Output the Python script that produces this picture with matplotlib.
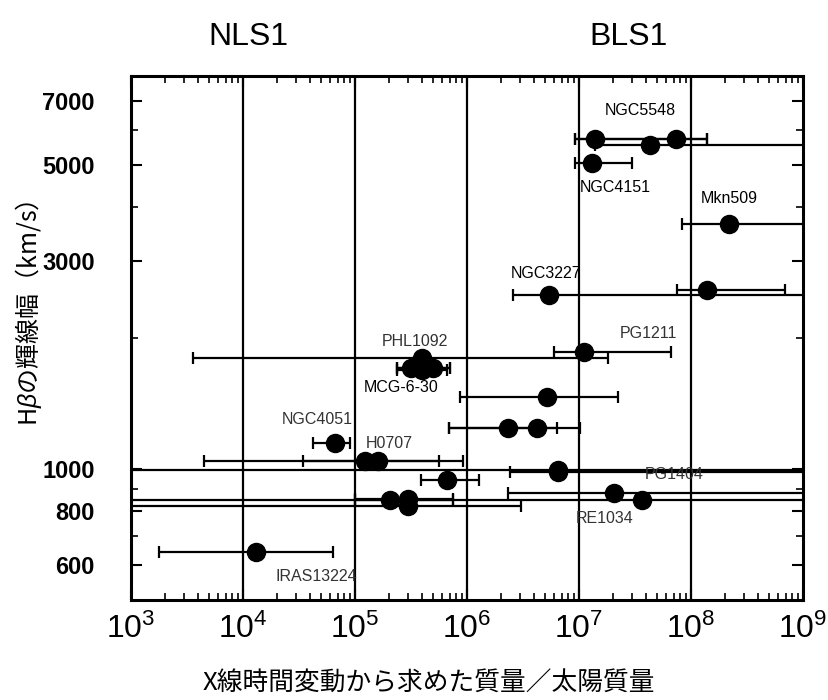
import matplotlib
matplotlib.use("Agg")
import matplotlib.pyplot as plt
from matplotlib.ticker import FixedLocator, FixedFormatter, NullFormatter, LogLocator, LogFormatterMathtext
import numpy as np

plt.rcParams['font.family'] = ['Liberation Sans', 'DejaVu Sans']
plt.rcParams['mathtext.fontset'] = 'custom'
plt.rcParams['mathtext.rm'] = 'Liberation Sans'
plt.rcParams['mathtext.it'] = 'Liberation Sans:italic'

# --- data: X-ray variability mass (solar masses) vs. H-beta FWHM (km/s)
mass    = [1.39e7, 4.3e7, 7.35e7, 1.31e7, 2.18e8, 5.4e6, 1.39e8, 1.11e7, 3.96e5,
           3.16e5, 3.96e5, 4.97e5, 5.15e6, 2.34e6, 4.25e6, 6.6e4, 1.23e5, 1.6e5,
           6.58e5, 6.5e6, 6.5e6, 2.05e7, 3.65e7, 2.05e5, 2.97e5, 2.97e5, 1.32e4]
mass_lo = [9.2e6, 1.4e7, 9.2e6, 9.2e6, 8.26e7, 2.59e6, 7.45e7, 6.0e6, 3.56e3,
           2.37e5, 2.37e5, 2.37e5, 8.66e5, 6.95e5, 6.95e5, 4.2e4, 4.49e3, 3.45e4,
           3.86e5, 2.42e6, 5.0e2, 2.32e6, 5.0e2, 1.0e5, 1.0e5, 5.0e2, 1.78e3]
mass_hi = [1.39e8, 2.0e9, 1.39e8, 3.0e7, 2.0e9, 2.0e9, 6.9e8, 6.6e7, 1.8e7,
           7.05e5, 6.62e5, 7.05e5, 2.23e7, 6.32e6, 1.02e7, 9.1e4, 5.66e5, 9.2e5,
           1.29e6, 2.0e9, 2.0e9, 2.0e9, 2.0e9, 7.5e5, 7.5e5, 3.03e6, 6.3e4]
fwhm    = [5730, 5545, 5730, 5046, 3652, 2508, 2577, 1856, 1798,
           1705, 1688, 1705, 1461, 1242, 1242, 1146, 1043, 1043,
           943, 984, 993, 881, 849, 850, 851, 822, 646]

# --- object names and where their labels sit (data coords)
names   = ['NGC5548', 'NGC4151', 'Mkn509', 'NGC3227', 'PG1211', 'PHL1092',
           'MCG-6-30', 'NGC4051', 'H0707', 'PG1404', 'RE1034', 'IRAS13224']
label_x = [3.5e7, 2.09e7, 2.18e8, 5.1e6, 4.19e7, 3.43e5,
           2.56e5, 4.64e4, 2.01e5, 7.05e7, 1.71e7, 4.49e4]
label_y = [6640, 4438, 4170, 2806, 2043, 1958,
           1534, 1296, 1141, 969, 768, 566]
label_dark = [True, True, True, True, False, False,
              True, False, False, False, False, False]

x_ticks = [1e3, 1e4, 1e5, 1e6, 1e7, 1e8, 1e9]
y_ticks = [600, 800, 1000, 3000, 5000, 7000]
y_minor = [500, 700, 900, 2000, 4000, 6000, 8000]

fig = plt.figure(figsize=(8.29, 7.0), dpi=100)
ax = fig.add_axes([0.158, 0.1429, 0.8106, 0.749])

m = np.array(mass)
lo = m - np.array(mass_lo)
hi = np.array(mass_hi) - m
ax.errorbar(m, fwhm, xerr=[lo, hi], fmt='o', color='black', ms=13,
            ecolor='black', elinewidth=1.6, capsize=4, capthick=1.6, zorder=3)

ax.set_xscale('log')
ax.set_yscale('log')
ax.set_xlim(1e3, 1e9)
ax.set_ylim(500, 8000)

ax.xaxis.set_major_locator(FixedLocator(x_ticks))
ax.xaxis.set_major_formatter(LogFormatterMathtext())
ax.xaxis.set_minor_locator(LogLocator(base=10, subs=np.arange(2, 10)))
ax.xaxis.set_minor_formatter(NullFormatter())

ax.yaxis.set_major_locator(FixedLocator(y_ticks))
ax.yaxis.set_major_formatter(FixedFormatter([str(v) for v in y_ticks]))
ax.yaxis.set_minor_locator(FixedLocator(y_minor))
ax.yaxis.set_minor_formatter(NullFormatter())

ax.tick_params(which='both', direction='in', top=True, right=True, color='black')
ax.tick_params(which='major', length=8, width=1.5)
ax.tick_params(which='minor', length=5, width=1.2)
ax.tick_params(axis='x', which='major', labelsize=23, pad=10)
ax.tick_params(axis='y', which='major', labelsize=17, pad=26)
for t in ax.get_yticklabels():
    t.set_fontweight('bold')

for s in ax.spines.values():
    s.set_linewidth(2.2)

for xv in x_ticks[1:-1]:
    ax.axvline(xv, color='black', lw=1.6, zorder=1)

for n, lx, ly, d in zip(names, label_x, label_y, label_dark):
    ax.text(lx, ly, n, ha='center', va='center', fontsize=11.5,
            color='black' if d else '#333333')

fig.text(0.30, 0.947, 'NLS1', ha='center', va='center', fontsize=23)
fig.text(0.758, 0.947, 'BLS1', ha='center', va='center', fontsize=23)

cjk = ['Noto Sans CJK JP', 'DejaVu Sans']
fig.text(0.5175, 0.024, 'X線時間変動から求めた質量／太陽質量', ha='center', va='center',
         fontsize=18.5, family=cjk)
fig.text(0.034, 0.553, 'H$\\beta$の輝線幅（km/s）', ha='center', va='center',
         rotation=90, fontsize=18, family=cjk)

fig.savefig('out.png', dpi=100)
